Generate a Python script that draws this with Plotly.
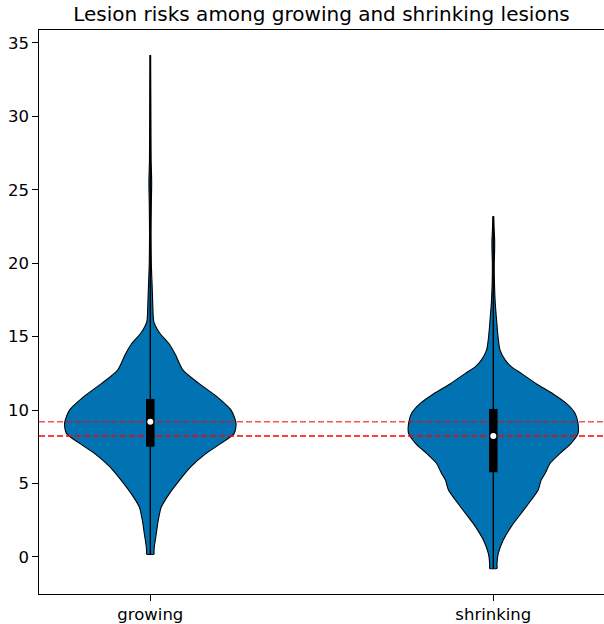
import plotly.graph_objects as go

# Categories and their x positions
categories = ["growing", "shrinking"]
positions = [1, 2]

# Kernel density profiles: value levels and relative half-widths (max = 1)
growing_levels = [0.20, 0.35, 0.7, 1.6, 2.5, 3.4, 4.3, 5.2, 6.1, 7.0, 7.7, 8.4, 9.1,
                  10.0, 10.9, 11.8, 12.7, 13.8, 14.5, 15.2, 15.5, 16.0, 16.5,
                  17.5, 18.5, 20.0, 22.0, 24.0, 25.5, 27.0, 30.0, 34.0, 34.15]
growing_density = [0.043, 0.043, 0.047, 0.070, 0.093, 0.128, 0.221, 0.337, 0.465, 0.640,
                   0.814, 0.977, 1.000, 0.942, 0.779, 0.570, 0.384, 0.291, 0.221,
                   0.116, 0.081, 0.041, 0.033, 0.027, 0.021, 0.012, 0.009, 0.012,
                   0.016, 0.010, 0.007, 0.004, 0.004]

shrinking_levels = [-0.77, -0.62, -0.43, 0.25, 1.16, 2.07, 2.98, 3.88, 4.56, 5.24, 5.7,
                    6.38, 7.06, 7.74, 8.42, 9.1, 9.78, 10.47, 11.1, 11.8, 12.5,
                    12.96, 13.4, 14.1, 15.0, 16.14, 17.27, 18.5, 19.9, 20.8, 21.5,
                    22.3, 23.05, 23.17]
shrinking_density = [0.043, 0.043, 0.043, 0.058, 0.116, 0.209, 0.326, 0.442, 0.523, 0.558,
                     0.605, 0.663, 0.779, 0.907, 0.988, 0.988, 0.953, 0.849, 0.698,
                     0.500, 0.326, 0.209, 0.140, 0.078, 0.055, 0.038, 0.023, 0.014,
                     0.011, 0.015, 0.016, 0.010, 0.006, 0.006]

# Summary statistics per group: min, q1, median, q3, max
mins = [0.20, -0.77]
q1s = [7.51, 5.77]
medians = [9.21, 8.24]
q3s = [10.76, 10.08]
maxs = [34.15, 23.17]

x_range = [0.6755, 2.3227]
y_range = [-2.52, 35.88]
half_width = 0.25
body_color = "#0173b2"

fig = go.Figure()

profiles = [(growing_levels, growing_density), (shrinking_levels, shrinking_density)]
for pos, (levels, dens) in zip(positions, profiles):
    left = [pos - half_width * d for d in dens]
    right = [pos + half_width * d for d in dens]
    xs = left + right[::-1] + [left[0]]
    ys = levels + levels[::-1] + [levels[0]]
    fig.add_trace(go.Scatter(
        x=xs, y=ys, mode="lines", fill="toself", fillcolor=body_color,
        line=dict(color="black", width=1.1, shape="spline", smoothing=0.7),
        hoverinfo="skip", showlegend=False))

# Reference lines at each group's median, across the whole plot
line_colors = ["rgba(255,0,0,0.68)", "rgba(255,0,0,1)"]
for m, c in zip(medians, line_colors):
    fig.add_trace(go.Scatter(x=x_range, y=[m, m], mode="lines",
                             line=dict(color=c, width=1.5, dash="6px,3px"),
                             hoverinfo="skip", showlegend=False))

for pos, lo, a, m, b, hi in zip(positions, mins, q1s, medians, q3s, maxs):
    # whisker
    fig.add_trace(go.Scatter(x=[pos, pos], y=[lo, hi], mode="lines",
                             line=dict(color="black", width=1.4),
                             hoverinfo="skip", showlegend=False))
    # interquartile box
    fig.add_trace(go.Scatter(x=[pos, pos], y=[a, b], mode="lines",
                             line=dict(color="black", width=8.5),
                             hoverinfo="skip", showlegend=False))
    # median
    fig.add_trace(go.Scatter(x=[pos], y=[m], mode="markers",
                             marker=dict(color="white", size=6, line=dict(width=0)),
                             hoverinfo="skip", showlegend=False))

fig.update_layout(
    width=604, height=624,
    margin=dict(l=39, r=0, t=30, b=30),
    paper_bgcolor="white", plot_bgcolor="white",
    font=dict(family="DejaVu Sans", color="black", size=16.5),
    title=dict(text="Lesion risks among growing and shrinking lesions",
               x=0.5, xref="paper", xanchor="center",
               y=1 - 14 / 624, yref="container", yanchor="middle",
               font=dict(size=20, family="DejaVu Sans", color="black")),
    xaxis=dict(range=x_range, tickvals=positions, ticktext=categories,
               showgrid=False, zeroline=False, showline=True, mirror=True,
               linecolor="black", linewidth=1.2, ticks="outside", ticklen=5.5,
               tickwidth=1.1, tickcolor="black", fixedrange=True),
    yaxis=dict(range=y_range, tickvals=[0, 5, 10, 15, 20, 25, 30, 35],
               showgrid=False, zeroline=False, showline=True, mirror=False,
               linecolor="black", linewidth=1.2, ticks="outside", ticklen=5.5,
               tickwidth=1.1, tickcolor="black", fixedrange=True),
)

fig.write_html("out.html")
